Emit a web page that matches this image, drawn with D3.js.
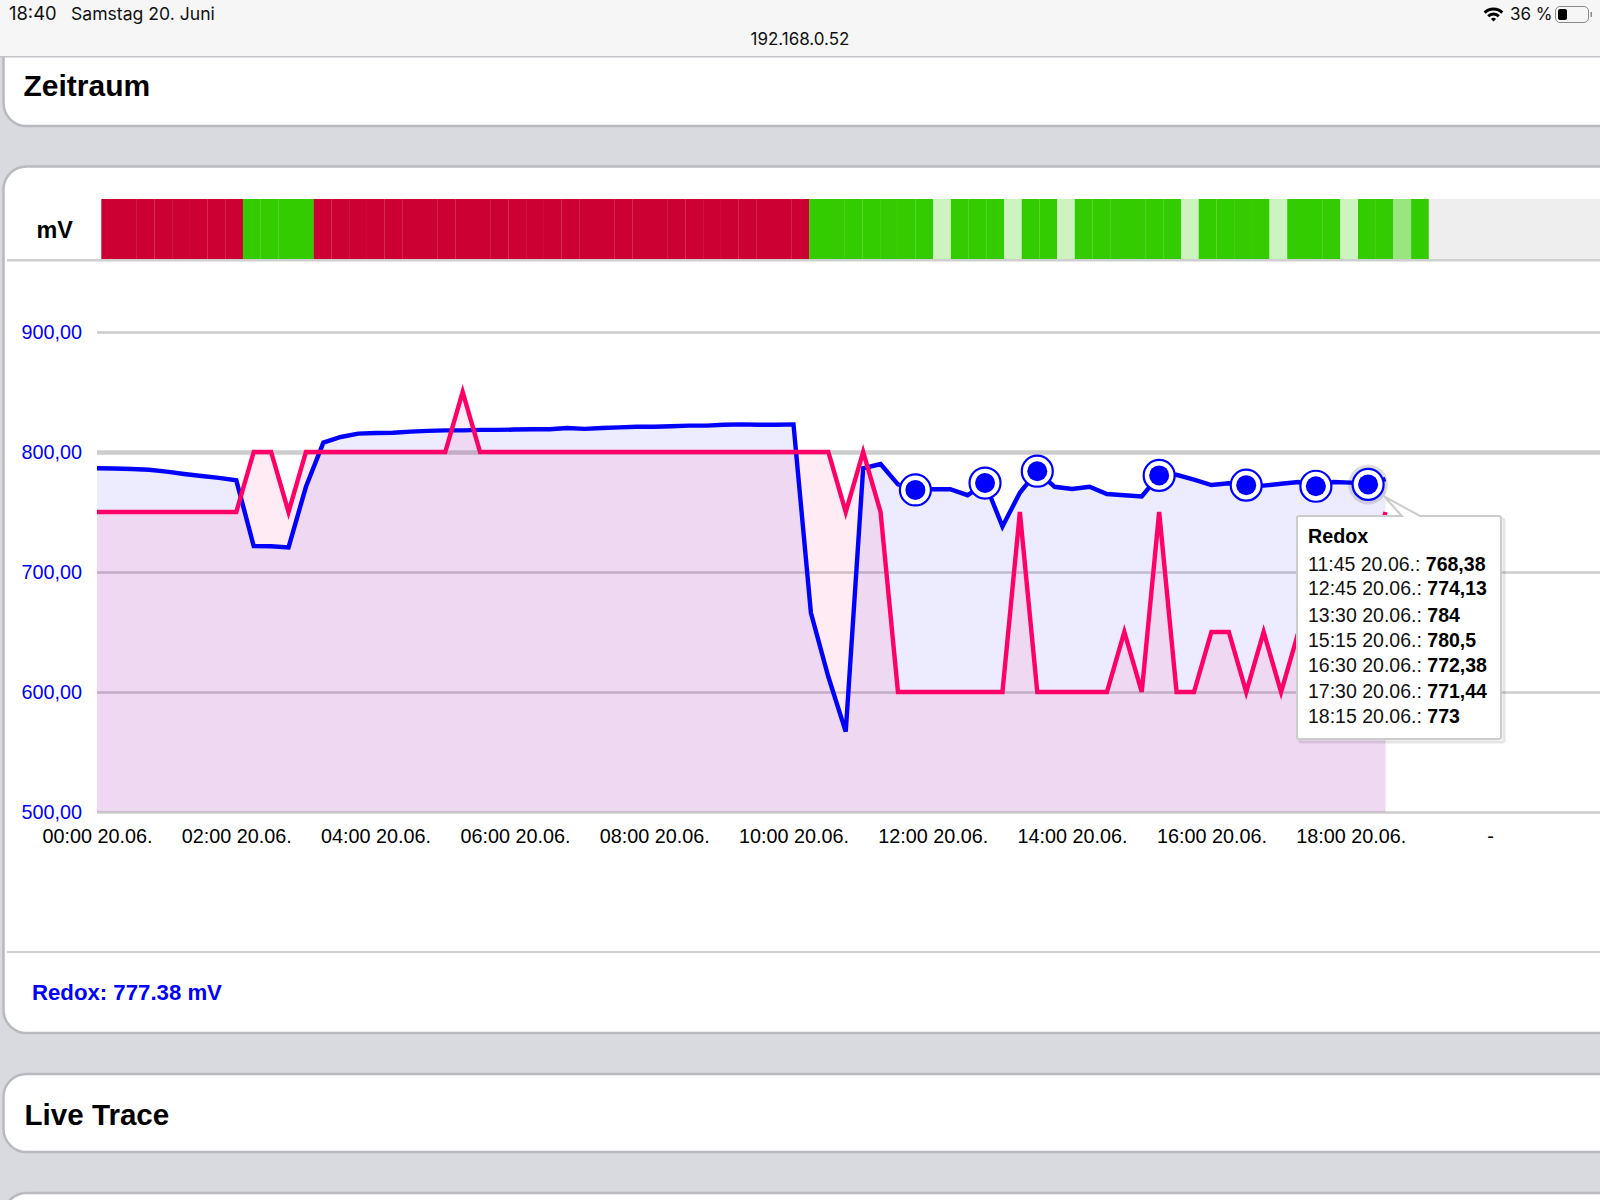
<!DOCTYPE html>
<html lang="de">
<head>
<meta charset="utf-8">
<title>Redox</title>
<script src="https://cdn.jsdelivr.net/npm/d3@7/dist/d3.min.js"></script>
<style>
  html, body { margin: 0; padding: 0; background: #d9dae0; overflow: hidden; }
  svg { display: block; font-family: "Liberation Sans", Arial, sans-serif; }
  .yaxis .domain, .xaxis .domain, .xaxis line { display: none; }
</style>
</head>
<body>
<svg id="chart" width="1600" height="1200"></svg>
<script>
// Redox readings in mV, one every 15 minutes from 00:00
const redoxValues = [
  786.4, 786.2, 785.8, 785.2, 783.6, 781.7, 780, 778.4, 776.4, 721.7,
  721.4, 720.5, 771, 807.8, 812.5, 815.3, 815.8, 816, 817, 817.6,
  818, 818, 818.4, 818.4, 818.7, 819, 819, 820, 819.3, 820,
  820.5, 821, 821, 821.5, 822, 822, 822.7, 823, 822.7, 822.7,
  823, 666, 612.7, 567, 786.4, 790, 773, 768.38, 769, 769,
  764, 774.13, 738, 766, 784, 771, 769.2, 771, 765, 764,
  763, 780.5, 781, 777, 772.5, 774, 772.38, 772, 773.5, 775,
  771.44, 775, 774.5, 773, 777.38
];

// Setpoint trace in mV on the same time base
const setpointValues = [
  750, 750, 750, 750, 750, 750, 750, 750, 750, 800,
  800, 750, 800, 800, 800, 800, 800, 800, 800, 800,
  800, 850, 800, 800, 800, 800, 800, 800, 800, 800,
  800, 800, 800, 800, 800, 800, 800, 800, 800, 800,
  800, 800, 800, 750, 800, 750, 600, 600, 600, 600,
  600, 600, 600, 750, 600, 600, 600, 600, 600, 650,
  600, 750, 600, 600, 650, 650, 600, 650, 600, 650,
  650, 700, 650, 700, 750
];

// Status strip: one state per 15-minute cell
const stripStates = [
  "bad","bad","bad","bad","bad","bad","bad","bad",
  "good","good","good","good",
  "bad","bad","bad","bad","bad","bad","bad","bad","bad","bad",
  "bad","bad","bad","bad","bad","bad","bad","bad","bad","bad",
  "bad","bad","bad","bad","bad","bad","bad","bad",
  "good","good","good","good","good","good","good",
  "picked","good","good","good","picked","good","good","picked",
  "good","good","good","good","good","good","picked",
  "good","good","good","good","picked","good","good","good","picked",
  "good","good","hover","good"
];
const stripCellCount = 96;

// Pinned readings shown in the tooltip
const pinnedSlots = [47, 51, 54, 61, 66, 70, 73];
const pinnedTimes = ["11:45 20.06.:", "12:45 20.06.:", "13:30 20.06.:", "15:15 20.06.:", "16:30 20.06.:", "17:30 20.06.:", "18:15 20.06.:"];
const pinnedValues = ["768,38", "774,13", "784", "780,5", "772,38", "771,44", "773"];

const yTicks = [500, 600, 700, 800, 900];
const xTickHours = [0, 2, 4, 6, 8, 10, 12, 14, 16, 18, 20];
const xTickLabels = ["00:00 20.06.", "02:00 20.06.", "04:00 20.06.", "06:00 20.06.", "08:00 20.06.", "10:00 20.06.", "12:00 20.06.", "14:00 20.06.", "16:00 20.06.", "18:00 20.06.", "-"];

const svg = d3.select("#chart");
const BLUE = "#0000ff", PINK = "#ff0066", EDGE = "#b9bac0";

const slotTime = i => new Date(2020, 5, 20, 0, 15 * i);
const x = d3.scaleTime().domain([slotTime(0), slotTime(80)]).range([97, 1490]);
const y = d3.scaleLinear().domain([500, 900]).range([812, 332]);

// Browser chrome
const bar = svg.append("g").attr("font-family", "Inter, 'Liberation Sans', sans-serif").attr("fill", "#111");

// Cards
function card(top, bottom) {
  svg.append("rect").attr("x", 3.5).attr("y", top).attr("width", 1700)
    .attr("height", bottom - top).attr("rx", 23).attr("ry", 23)
    .attr("fill", "#fff").attr("stroke", EDGE).attr("stroke-width", 2.5);
}
card(20, 126);
card(166.5, 1033);
card(1074, 1152);
card(1193, 1300);

bar.raise();
bar.append("rect").attr("width", 1600).attr("height", 56).attr("fill", "#f6f6f6");
bar.append("rect").attr("y", 56).attr("width", 1600).attr("height", 1.5).attr("fill", "#c3c3c8");
bar.append("text").attr("x", 9).attr("y", 20).attr("font-size", 18.4).text("18:40");
bar.append("text").attr("x", 71).attr("y", 20).attr("font-size", 17.6).text("Samstag 20. Juni");
bar.append("text").attr("x", 800).attr("y", 44.5).attr("text-anchor", "middle").attr("font-size", 17).text("192.168.0.52");
bar.append("text").attr("x", 1510).attr("y", 20).attr("font-size", 17).text("36 %");

const wifi = bar.append("g").attr("transform", "translate(1493.5,21.5)");
[[0, 3.6], [6, 9], [11, 14]].forEach(([r0, r1]) => {
  wifi.append("path").attr("fill", "#000")
    .attr("d", d3.arc().innerRadius(r0).outerRadius(r1).startAngle(-Math.PI / 4).endAngle(Math.PI / 4)());
});
bar.append("rect").attr("x", 1555.5).attr("y", 6.5).attr("width", 33).attr("height", 16).attr("rx", 4.5)
  .attr("fill", "none").attr("stroke", "#8a8a8a").attr("stroke-width", 1);
bar.append("rect").attr("x", 1558).attr("y", 9).attr("width", 9).attr("height", 11).attr("rx", 2).attr("fill", "#000");
bar.append("rect").attr("x", 1590.5).attr("y", 12).attr("width", 1.5).attr("height", 5).attr("fill", "#8a8a8a");

// Card headings
svg.append("text").attr("x", 23.5).attr("y", 96).attr("font-size", 30).attr("font-weight", 700).attr("fill", "#000").text("Zeitraum");
svg.append("text").attr("x", 24.5).attr("y", 1125).attr("font-size", 29.6).attr("font-weight", 700).attr("fill", "#000").text("Live Trace");
svg.append("text").attr("x", 36.5).attr("y", 238).attr("font-size", 23.4).attr("font-weight", 700).attr("fill", "#000").text("mV");

// Status strip; neighbouring cells overlap slightly so only faint seams remain
const stripColors = { bad: "#cc0033", good: "#33cc00", picked: "#ccf3c0", hover: "#99e680", none: "#eeeeee" };
const strip = d3.scaleBand().domain(d3.range(stripCellCount)).range([101.3, 101.3 + 17.7 * stripCellCount]);
svg.append("g").selectAll("rect").data(d3.range(stripCellCount)).join("rect")
  .attr("x", d => strip(d)).attr("y", 199)
  .attr("width", d => strip.bandwidth() + (stripStates[d] ? 0.15 : 0.6)).attr("height", 60)
  .attr("fill", d => stripColors[stripStates[d] || "none"]);
svg.append("rect").attr("x", 7).attr("y", 259).attr("width", 1593).attr("height", 2.5).attr("fill", "#cfcfcf");
svg.append("rect").attr("x", 7).attr("y", 951).attr("width", 1593).attr("height", 2).attr("fill", "#cfcfcf");

// Grid lines and value axis
const decimalComma = d3.formatLocale({ decimal: ",", thousands: ".", grouping: [3], currency: ["", " €"] }).format(".2f");
const yAxis = svg.append("g").attr("class", "yaxis").attr("transform", "translate(97,0)")
  .call(d3.axisLeft(y).tickValues(yTicks).tickSize(-1503).tickPadding(15).tickFormat(decimalComma));
yAxis.selectAll("line").attr("stroke", "#cccccc").attr("stroke-width", d => d === 800 ? 4.5 : 2.5);
yAxis.selectAll("text").attr("fill", BLUE).attr("font-size", 19.8).attr("font-family", "'Liberation Sans', Arial, sans-serif");

// Time axis
const xAxis = svg.append("g").attr("class", "xaxis").attr("transform", "translate(0,812)")
  .call(d3.axisBottom(x)
    .tickValues(xTickHours.map(h => slotTime(h * 4)))
    .tickSize(0).tickPadding(17)
    .tickFormat((d, i) => xTickLabels[i]));
xAxis.selectAll("text").attr("fill", "#000").attr("font-size", 19.8).attr("font-family", "'Liberation Sans', Arial, sans-serif");

// Series: translucent areas down to the axis floor, then the lines
const area = d3.area().x((d, i) => x(slotTime(i))).y0(y(500)).y1(d => y(d));
const line = d3.line().x((d, i) => x(slotTime(i))).y(d => y(d));
svg.append("path").datum(redoxValues).attr("d", area).attr("fill", "#1a00f0").attr("fill-opacity", 0.08);
svg.append("path").datum(setpointValues).attr("d", area).attr("fill", PINK).attr("fill-opacity", 0.08);
svg.append("path").datum(redoxValues).attr("d", line).attr("fill", "none").attr("stroke", BLUE)
  .attr("stroke-width", 4.4).attr("stroke-linejoin", "miter").attr("stroke-miterlimit", 4);
svg.append("path").datum(setpointValues).attr("d", line).attr("fill", "none").attr("stroke", PINK)
  .attr("stroke-width", 4.4).attr("stroke-linejoin", "miter").attr("stroke-miterlimit", 4);

// Pinned markers; the last one carries the hover halo
const lastSlot = pinnedSlots[pinnedSlots.length - 1];
svg.append("circle").attr("cx", x(slotTime(lastSlot))).attr("cy", y(redoxValues[lastSlot])).attr("r", 20)
  .attr("fill", "#000").attr("fill-opacity", 0.13);
const markers = svg.append("g").selectAll("g").data(pinnedSlots).join("g")
  .attr("transform", d => `translate(${x(slotTime(d))},${y(redoxValues[d])})`);
markers.append("circle").attr("r", 15.5).attr("fill", "#fff").attr("stroke", BLUE).attr("stroke-width", 2.2);
markers.append("circle").attr("r", 10).attr("fill", BLUE);

// Tooltip with callout towards the hovered point
const tip = svg.append("g");
const box = { left: 1297, top: 516, right: 1501, bottom: 739 };
const anchorX = x(slotTime(lastSlot)) + 16, anchorY = y(redoxValues[lastSlot]) + 12;
const tipPath = `M${box.left + 2},${box.top} H1402 L${anchorX},${anchorY} L1420,${box.top} H${box.right - 2} Q${box.right},${box.top} ${box.right},${box.top + 2} V${box.bottom - 2} Q${box.right},${box.bottom} ${box.right - 2},${box.bottom} H${box.left + 2} Q${box.left},${box.bottom} ${box.left},${box.bottom - 2} V${box.top + 2} Q${box.left},${box.top} ${box.left + 2},${box.top} Z`;
tip.append("path").attr("d", tipPath).attr("transform", "translate(3,3)").attr("fill", "none")
  .attr("stroke", "#000").attr("stroke-opacity", 0.1).attr("stroke-width", 3);
tip.append("path").attr("d", tipPath).attr("fill", "#fff").attr("stroke", "#cccccc").attr("stroke-width", 2);
tip.append("text").attr("x", 1308).attr("y", 543).attr("font-size", 19.7).attr("font-weight", 700).attr("fill", "#000").text("Redox");
const rowBaselines = [570.5, 594.5, 622, 647, 672, 698, 723];
const rows = tip.append("g").selectAll("text").data(pinnedTimes).join("text")
  .attr("x", 1308).attr("y", (d, i) => rowBaselines[i]).attr("font-size", 19.5).attr("fill", "#111");
rows.append("tspan").text(d => d + " ");
rows.append("tspan").attr("font-weight", 700).attr("fill", "#000").text((d, i) => pinnedValues[i]);

// Current reading below the chart
svg.append("text").attr("x", 32).attr("y", 1000).attr("font-size", 22.2).attr("font-weight", 700).attr("fill", BLUE).text("Redox: 777.38 mV");
</script>
</body>
</html>
